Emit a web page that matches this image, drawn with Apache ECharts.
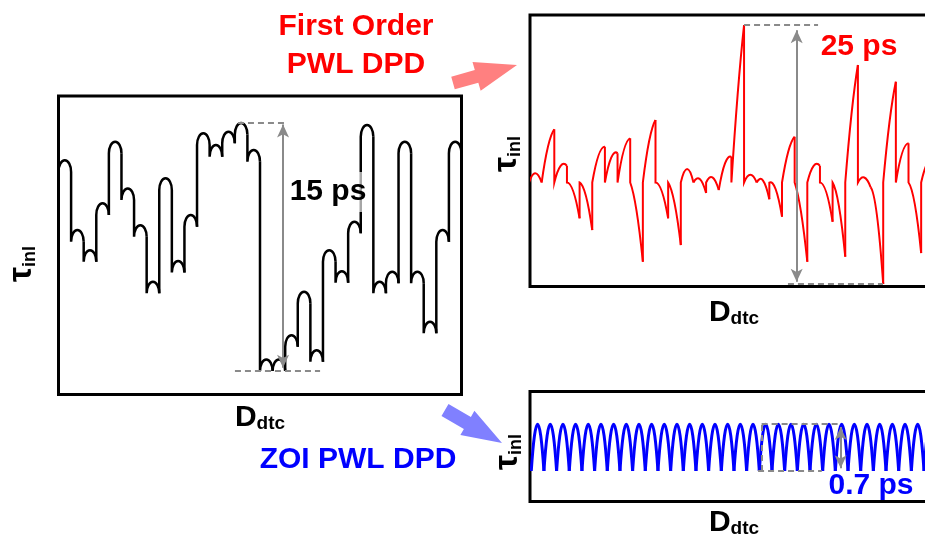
<!DOCTYPE html>
<html>
<head>
<meta charset="utf-8">
<script src="https://cdn.jsdelivr.net/npm/echarts@6/dist/echarts.min.js"></script>
<style>
  html, body { margin: 0; padding: 0; background: #fff; }
  #chart { width: 925px; height: 538px; }
</style>
</head>
<body>
<div id="chart"></div>
<script>
// tau_inl per DTC code segment (ps)
// left: before DPD, one arch per segment
const blackLevels = [12.04, 7.82, 6.61, 9.44, 13.17, 10.34, 8.12, 4.70, 10.95, 5.95, 8.73, 13.67, 12.96, 13.77, 14.3, 12.66,
                     0, 0, 1.47, 4.10, 0.56, 6.61, 5.34, 8.33, 14.17, 4.70, 5.31, 13.17, 5.31, 2.28, 7.82, 13.17]
const blackArch = 0.7

// first order PWL DPD: each segment goes from start to end, bend = bulge above the chord
const redStart = [9.8, 9.8, 9.8, 9.8, 9.8, 9.8, 9.8, 9.8, 9.8, 9.8, 9.8, 9.8, 9.8, 9.8, 9.8, 9.07,
                  9.8, 9.8, 9.8, 9.8, 9.8, 9.8, 9.8, 9.8, 9.8, 9.8, 9.8, 9.36, 9.8, 9.8, 9.8, 9.8]
const redEnd   = [9.8, 14.93, 11.4, 6.34, 5.21, 13.25, 12.62, 14.06, 2.15, 15.83, 6.34, 3.76, 9.8, 8.78, 9.07, 12.26,
                  25.0, 9.8, 8.18, 6.5, 14.22, 2.15, 11.4, 6.01, 2.64, 21.14, 9.36, 0, 19.53, 13.58, 2.99, 12.0]
const redBend  = [0.9, 0.9, 0.8, 0.87, 1.0, 0.9, 1.0, 1.0, 1.1, 1.0, 0.87, 1.05, 1.3, 0.85, 0.85, 1.0,
                  1.0, 0.75, 1.0, 1.0, 0.8, 1.0, 0.8, 0.95, 1.3, 1.0, 0.7, 2.0, 1.0, 0.95, 1.3, 0.8]

// ZOI PWL DPD: same small arch in every segment
const blueLevels = [0, 0, 0, 0, 0, 0, 0, 0, 0, 0, 0, 0, 0, 0, 0, 0,
                    0, 0, 0, 0, 0, 0, 0, 0, 0, 0, 0, 0, 0, 0, 0, 0]
const blueArch = 0.7

const FONT = "'Liberation Sans', Arial, sans-serif"
const GREY = '#8a8a8a'

// rounded arch (half ellipse) over one segment
function archItem(color, width) {
  return (params, api) => {
    const i = api.value(0), base = api.value(1), prev = api.value(2), h = api.value(3)
    const a = api.coord([i, prev]), s = api.coord([i, base]), e = api.coord([i + 1, base]), t = api.coord([i + 0.5, base + h])
    const k = 0.5523, rx = (e[0] - s[0]) / 2, ry = s[1] - t[1]
    const d = `M${a[0]} ${a[1]}L${s[0]} ${s[1]}` +
      `C${s[0]} ${s[1] - k * ry} ${t[0] - k * rx} ${t[1]} ${t[0]} ${t[1]}` +
      `C${t[0] + k * rx} ${t[1]} ${e[0]} ${e[1] - k * ry} ${e[0]} ${e[1]}`
    return { type: 'path', shape: { pathData: d }, style: { fill: 'none', stroke: color, lineWidth: width } }
  }
}

// parabolic piece from start to end, bulging by bend above the chord
function rampItem(color, width) {
  return (params, api) => {
    const i = api.value(0), y0 = api.value(1), y1 = api.value(2), b = api.value(3), yp = api.value(4)
    const a = api.coord([i, yp]), s = api.coord([i, y0]), e = api.coord([i + 1, y1])
    const c = api.coord([i + 0.5, (y0 + y1) / 2 + 2 * b])
    const d = `M${a[0]} ${a[1]}L${s[0]} ${s[1]}Q${c[0]} ${c[1]} ${e[0]} ${e[1]}`
    return { type: 'path', shape: { pathData: d }, style: { fill: 'none', stroke: color, lineWidth: width } }
  }
}

function arrowPoints(x1, y1, x2, y2, shaftHalf, headHalf, headLen) {
  const len = Math.hypot(x2 - x1, y2 - y1)
  const ux = (x2 - x1) / len, uy = (y2 - y1) / len, nx = -uy, ny = ux
  const bx = x2 - ux * headLen, by = y2 - uy * headLen
  return [
    [x1 + nx * shaftHalf, y1 + ny * shaftHalf], [bx + nx * shaftHalf, by + ny * shaftHalf],
    [bx + nx * headHalf, by + ny * headHalf], [x2, y2], [bx - nx * headHalf, by - ny * headHalf],
    [bx - nx * shaftHalf, by - ny * shaftHalf], [x1 - nx * shaftHalf, y1 - ny * shaftHalf],
  ]
}

function dashed(x1, y1, x2, y2) {
  return [{ coord: [x1, y1] }, { coord: [x2, y2] }]
}
function arrowLine(x, y1, y2) {
  return [
    { coord: [x, y1], symbol: 'arrow', symbolSize: [9, 13], lineStyle: { type: 'solid', color: GREY, width: 2 } },
    { coord: [x, y2], symbol: 'arrow', symbolSize: [9, 13] },
  ]
}
const markBase = { silent: true, animation: false, symbol: 'none', label: { show: false },
  lineStyle: { color: GREY, width: 2, type: [6, 4] } }

const blackData = blackLevels.map((v, i) => [i, v, i ? blackLevels[i - 1] : v, blackArch])
const redData = redEnd.map((v, i) => [i, redStart[i], v, redBend[i], i ? redEnd[i - 1] : redStart[i]])
const blueData = blueLevels.map((v, i) => [i, v, v, blueArch, i ? blueLevels[i - 1] : v])

const bigText = (x, y, text, color, extra) => ({
  type: 'text', x, y, z: 100,
  style: Object.assign({ text, fill: color, font: `bold 30px ${FONT}`, align: 'center', verticalAlign: 'middle' }, extra || {}),
})
const tauLabel = (x, y) => ({
  type: 'text', x, y, rotation: Math.PI / 2, z: 100,
  style: {
    text: '{t|τ}{s|inl}', align: 'center', verticalAlign: 'middle',
    rich: {
      t: { fontSize: 34, fontWeight: 'bold', fontFamily: FONT, fill: '#000', lineHeight: 34, verticalAlign: 'bottom' },
      s: { fontSize: 18, fontWeight: 'bold', fontFamily: FONT, fill: '#000', lineHeight: 22, verticalAlign: 'bottom' },
    },
  },
})
const dLabel = (x, y) => ({
  type: 'text', x, y, z: 100,
  style: {
    text: '{d|D}{s|dtc}', align: 'center', verticalAlign: 'middle',
    rich: {
      d: { fontSize: 30, fontWeight: 'bold', fontFamily: FONT, fill: '#000', lineHeight: 30, verticalAlign: 'bottom' },
      s: { fontSize: 19, fontWeight: 'bold', fontFamily: FONT, fill: '#000', lineHeight: 12, verticalAlign: 'bottom' },
    },
  },
})

const gridStyle = { show: true, borderColor: '#000', borderWidth: 3, backgroundColor: 'transparent', outerBoundsMode: 'none' }

const option = {
  animation: false,
  backgroundColor: '#fff',
  grid: [
    Object.assign({ left: 58.5, top: 96, width: 403, height: 298.5 }, gridStyle),
    Object.assign({ left: 530, top: 15, width: 420, height: 271.5 }, gridStyle),
    Object.assign({ left: 530, top: 391.5, width: 420, height: 110 }, gridStyle),
  ],
  xAxis: [
    { gridIndex: 0, type: 'value', min: 0, max: 32, show: false },
    { gridIndex: 1, type: 'value', min: 0.079, max: 33.28, show: false },
    { gridIndex: 2, type: 'value', min: -0.1, max: 33.05, show: false },
  ],
  yAxis: [
    { gridIndex: 0, type: 'value', min: -1.42, max: 16.63, show: false },
    { gridIndex: 1, type: 'value', min: -0.24, max: 25.97, show: false },
    { gridIndex: 2, type: 'value', min: -0.457, max: 1.19, show: false },
  ],
  series: [
    {
      type: 'custom', xAxisIndex: 0, yAxisIndex: 0, clip: true, data: blackData,
      renderItem: archItem('#000', 2.5),
      markLine: Object.assign({}, markBase, {
        data: [dashed(14.25, 15, 18.22, 15), dashed(14.01, 0, 20.77, 0), arrowLine(17.83, 14.9, 0.2)],
      }),
    },
    {
      type: 'custom', xAxisIndex: 1, yAxisIndex: 1, clip: true, data: redData,
      renderItem: rampItem('#ff0000', 2),
      markLine: Object.assign({}, markBase, {
        data: [dashed(17.0, 25, 22.85, 25), dashed(20.47, 0, 27.98, 0), arrowLine(21.16, 24.5, 0.22)],
      }),
    },
    {
      type: 'custom', xAxisIndex: 2, yAxisIndex: 2, clip: true, data: blueData,
      renderItem: rampItem('#0000ff', 3),
      markLine: Object.assign({}, markBase, {
        data: [dashed(18.18, 0.7, 24.37, 0.7), dashed(17.9, 0, 22.93, 0), dashed(18.18, 0, 18.18, 0.7),
               arrowLine(24.42, 0.66, 0.04)],
      }),
    },
  ],
  graphic: [
    { type: 'polygon', z: 90, shape: { points: arrowPoints(453, 83, 517, 65, 6.5, 15, 42) }, style: { fill: '#ff8080' } },
    { type: 'polygon', z: 90, shape: { points: arrowPoints(445, 410, 502, 443, 7, 14, 40) }, style: { fill: '#8080ff' } },
    bigText(356, 27, 'First Order', '#ff0000'),
    bigText(356, 65, 'PWL DPD', '#ff0000'),
    bigText(358, 460, 'ZOI PWL DPD', '#0000ff'),
    bigText(328, 192, '15 ps', '#000', { backgroundColor: 'rgba(255,255,255,0.65)', padding: [6, 2, 4, 2] }),
    bigText(859, 47, '25 ps', '#ff0000'),
    bigText(871, 486, '0.7 ps', '#0000ff'),
    tauLabel(22, 264),
    tauLabel(507, 154),
    tauLabel(508, 452),
    dLabel(260, 418),
    dLabel(734, 313),
    dLabel(734, 523),
  ],
}

const chart = echarts.init(document.getElementById('chart'))
chart.setOption(option)
</script>
</body>
</html>
